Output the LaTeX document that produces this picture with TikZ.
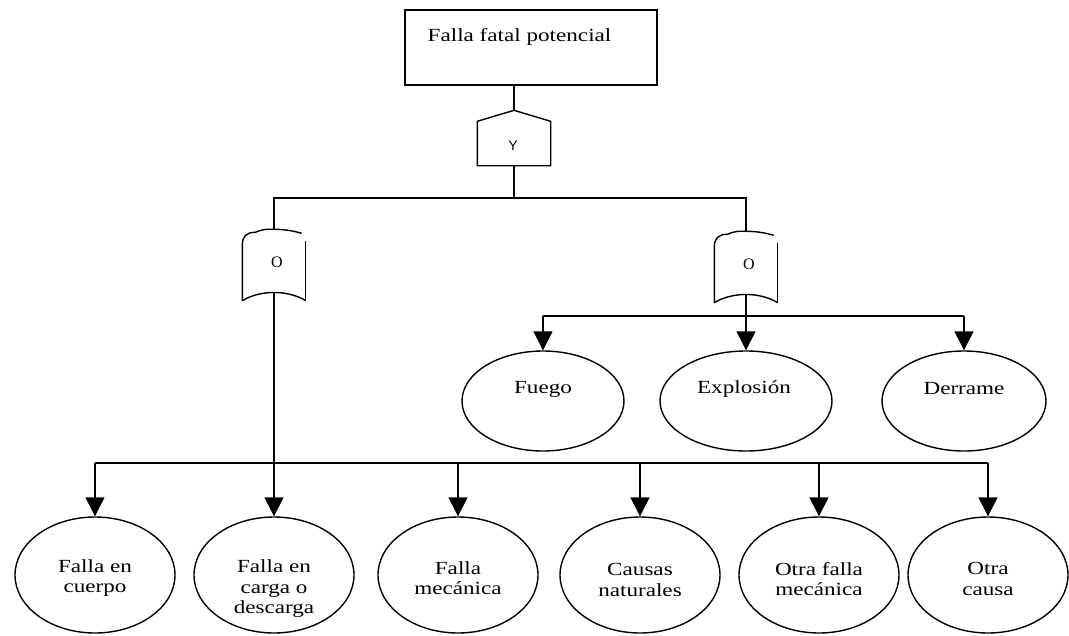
\documentclass[tikz,border=0pt]{standalone}
\usepackage{fontspec}
\setmainfont{Liberation Serif}[FakeStretch=1.25]
\newfontfamily\gatefont{Liberation Serif}
\newfontfamily\andfont{Liberation Sans}
\usetikzlibrary{arrows.meta,shapes.geometric,calc}
\newcommand\drawORgate[1]{%
  \draw (#1.south west) -- ($(#1.north west)+(0,16)$)
        .. controls ($(#1.north west)+(0,7)$) and ($(#1.north west)+(4,3)$) .. ($(#1.north west)+(13,3)$)
        .. controls ($(#1.north)+(-9,-1)$) and ($(#1.north)+(-4,0)$) .. (#1.north)
        .. controls ($(#1.north)+(8,0)$) and ($(#1.north east)+(-14,1)$) .. ($(#1.north east)+(-4,4)$);
  \draw ($(#1.north east)+(0,12)$) -- (#1.south east);
  \draw (#1.south west) .. controls ($(#1.south west)+(18,-11)$) and ($(#1.south east)+(-18,-11)$) .. (#1.south east);
}
\begin{document}
\begin{tikzpicture}[x=1pt,y=-1pt,line width=1.4pt,
  lbl/.style={font=\fontsize{18.5}{20.5}\selectfont, align=center, inner sep=0},
  ev/.style={draw, ellipse, inner sep=0, line width=1.4pt},
  topev/.style={ev, minimum height=100pt},
  botev/.style={ev, minimum width=160pt, minimum height=116pt},
  gatenode/.style={inner sep=0, draw=none},
  gatelbl/.style={font=\gatefont\fontsize{16}{16}\selectfont, inner sep=0},
  arr/.style={-{Triangle[length=19pt,width=19pt]}},
]
\useasboundingbox (0,0) rectangle (1069,635);

% top event
\node[draw, minimum width=252pt, minimum height=75pt, inner sep=0] (top) at (531,47.5) {};
\node[lbl, anchor=west] (toptxt) at (427,37) {Falla fatal potencial};

% AND gate
\node[gatenode, minimum width=72pt, minimum height=54pt] (gy) at (514,138) {};
\node[font=\andfont\fontsize{14}{14}\selectfont, inner sep=0] (ylbl) at (513,146) {Y};
\draw ([yshift=-11pt]gy.north west) -- (gy.north) -- ([yshift=-11pt]gy.north east)
      -- (gy.south east) -- (gy.south west) -- cycle;
\draw (top.south -| gy.north) -- (gy.north);

% OR gates
\node[gatenode, minimum width=62pt, minimum height=70pt] (g1) at (274,265) {};
\node[gatelbl] (o1) at (277,262) {O};
\drawORgate{g1}
\node[gatenode, minimum width=62pt, minimum height=70pt] (g2) at (746,267) {};
\node[gatelbl] (o2) at (749,264) {O};
\drawORgate{g2}

\coordinate (bar1) at (0,198);
\draw (gy.south) -- (gy.south |- bar1);
\draw (g1.north) -- (g1.north |- bar1) -- (g2.north |- bar1) -- (g2.north);

% right branch events
\node[topev, minimum width=162pt] (f1) at (543,401) {};
\node[topev, minimum width=172pt] (f2) at (746,401) {};
\node[topev, minimum width=164pt] (f3) at (964,401) {};
\node[lbl] (tf1) at (543,389) {Fuego};
\node[lbl] (tf2) at (744,389) {Explosión};
\node[lbl] (tf3) at (964,389) {Derrame};

\coordinate (bar3) at (0,316);
\draw (f1.north |- bar3) -- (f3.north |- bar3);
\draw[arr] (f1.north |- bar3) -- (f1.north);
\draw[arr] (f3.north |- bar3) -- (f3.north);
\draw[arr] ([yshift=8pt]g2.south) -- (f2.north);

% left branch events
\node[botev] (e1) at (95,575) {};
\node[botev] (e2) at (274,575) {};
\node[botev] (e3) at (458,575) {};
\node[botev] (e4) at (640,575) {};
\node[botev] (e5) at (819,575) {};
\node[botev] (e6) at (988,575) {};
\node[lbl] (te1) at (95,578) {Falla en\\cuerpo};
\node[lbl] (te2) at (274,589) {Falla en\\carga o\\descarga};
\node[lbl] (te3) at (458,578) {Falla\\mecánica};
\node[lbl] (te4) at (640,580) {Causas\\naturales};
\node[lbl] (te5) at (819,579) {Otra falla\\mecánica};
\node[lbl] (te6) at (988,579) {Otra\\causa};

\coordinate (bar2) at (0,463);
\draw (e1.north |- bar2) -- (e6.north |- bar2);
\foreach \e in {e1,e3,e4,e5,e6}
  \draw[arr] (\e.north |- bar2) -- (\e.north);
\draw[arr] ([yshift=8pt]g1.south) -- (e2.north);
\end{tikzpicture}
\end{document}
